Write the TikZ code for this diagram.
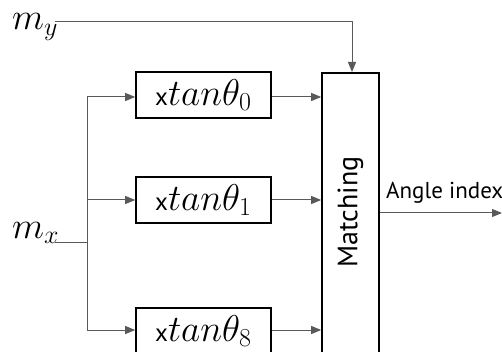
\documentclass[tikz,border=0pt]{standalone}
\usepackage{graphicx}
\usepackage{fontspec}
\setmainfont{PT Sans}
\usetikzlibrary{arrows.meta}
\newcommand{\mymth}[1]{\scalebox{1.5}{$#1$}}
\tikzset{
  blk/.style={draw=black, line width=1.6pt, minimum width=135pt, minimum height=46pt, inner sep=0pt, font=\fontsize{25}{28}\selectfont},
  conn/.style={draw=black!65, line width=1pt},
  arr/.style={conn, -{Triangle[length=10pt,width=8pt]}},
  lbl/.style={font=\fontsize{23}{26}\selectfont, inner sep=0pt}
}
\begin{document}
\begin{tikzpicture}[x=1pt,y=-1pt]
\useasboundingbox (0,0) rectangle (502,352);
\clip (0,0) rectangle (502,352);
\node[lbl, anchor=base west] (my) at (12,30) {\mymth{m_y}};
\node[lbl, anchor=base west] (mx) at (12,238) {\mymth{m_x}};
\node[blk] (b0) at (203.5,95) {x\mymth{tan\theta_0}};
\node[blk] (b1) at (203.5,200) {x\mymth{tan\theta_1}};
\node[blk] (b8) at (203.5,331) {x\mymth{tan\theta_8}};
\node[draw=black, line width=1.6pt, minimum width=57pt, minimum height=300pt, inner sep=0pt, anchor=north] (mt) at (350.5,72) {};
\node[lbl, rotate=90, font=\fontsize{28}{32}\selectfont] (mtxt) at (350.5,212) {Matching};
\coordinate (myc) at (55,22);
\coordinate (myk) at (352,22);
\coordinate (mxc) at (55,242);
\coordinate (j) at (87,242);
\coordinate (j0) at (87,97);
\coordinate (j1) at (87,200);
\coordinate (j8) at (87,330);
\coordinate (oute) at (502,213);
\draw[arr] (myc) -- (myk) -- (mt.north -| myk);
\draw[conn] (mxc) -- (j);
\draw[conn] (j0) -- (j8);
\draw[arr] (j0) -- (b0.west |- j0);
\draw[arr] (j1) -- (b1.west |- j1);
\draw[arr] (j8) -- (b8.west |- j8);
\draw[arr] (b0.east |- j0) -- (mt.west |- j0);
\draw[arr] (b1.east |- j1) -- (mt.west |- j1);
\draw[arr] (b8.east |- j8) -- (mt.west |- j8);
\draw[arr] (mt.east |- oute) -- (oute);
\node[lbl, anchor=south west] (ai) at (386,204) {Angle index};
\end{tikzpicture}
\end{document}
